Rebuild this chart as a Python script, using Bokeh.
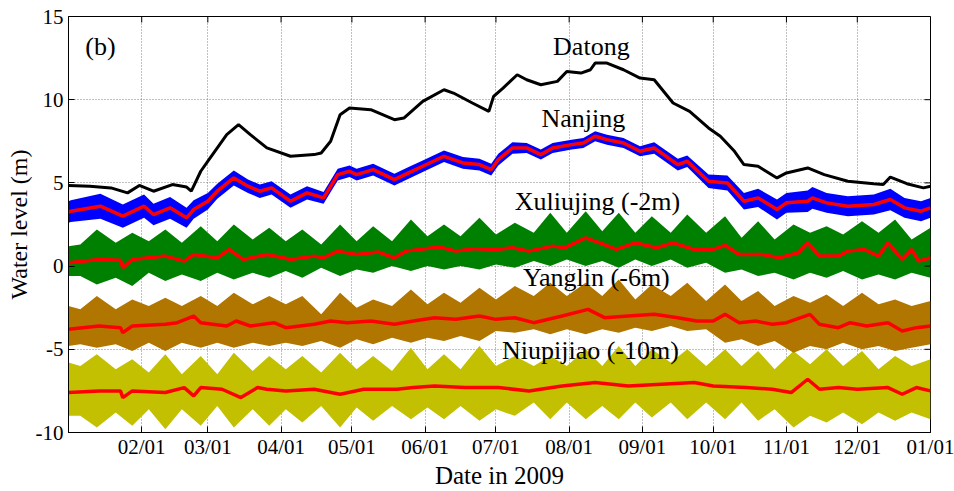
import numpy as np
from bokeh.plotting import figure
from bokeh.models import Range1d, FixedTicker, Label, Title
from bokeh.embed import file_html
from bokeh.resources import INLINE

# ---------------------------------------------------------------- axes
month_days = [31, 59, 90, 120, 151, 181, 212, 243, 273, 304, 334, 365]
month_labels = ["02/01", "03/01", "04/01", "05/01", "06/01", "07/01",
                "08/01", "09/01", "10/01", "11/01", "12/01", "01/01"]
level_ticks = [-10, -5, 0, 5, 10, 15]
level_labels = ["-10", "-5", "0", "5", "10", "15"]

# ---------------------------------------------------------------- Datong (daily level)
dt_days = [0, 9, 18, 25, 30, 36, 44, 50, 52, 56, 60, 67, 72, 77, 84, 94, 104, 107, 111, 115,
           119, 128, 138, 142, 150, 159, 163, 171, 178, 180, 184, 190, 194, 200, 207, 211, 217,
           221, 223, 228, 235, 242, 248, 256, 263, 271, 276, 282, 286, 292, 300, 304, 313, 320,
           330, 341, 345, 348, 355, 362, 365]
dt_level = [4.85, 4.8, 4.7, 4.4, 4.85, 4.5, 4.9, 4.75, 4.5, 5.7, 6.5, 7.9, 8.5, 7.9, 7.1, 6.6,
            6.7, 6.8, 7.5, 9.1, 9.5, 9.4, 8.8, 8.9, 9.9, 10.6, 10.4, 9.8, 9.3, 10.2, 10.7, 11.5,
            11.2, 10.9, 11.1, 11.7, 11.6, 11.8, 12.2, 12.2, 11.8, 11.3, 11.2, 9.8, 9.3, 8.3, 7.8,
            6.9, 6.1, 6.0, 5.3, 5.6, 5.9, 5.5, 5.1, 4.95, 4.9, 5.35, 4.95, 4.7, 4.8]

# ---------------------------------------------------------------- Nanjing (tidal mean and half range)
nj_days = [0, 1, 13.5, 23, 32, 36, 43, 50, 53, 59, 63, 70, 76, 81, 86, 94, 101, 108, 114, 119,
           122, 129, 138, 144, 150, 159, 167, 174, 179, 182, 188, 194, 200, 205, 213, 218, 223,
           228, 235, 242, 248, 258, 262, 271, 279, 286, 292, 300, 304, 313, 315, 321, 330, 341,
           348, 354, 361, 365]
nj_mean = [3.25, 3.3, 3.6, 3.0, 3.6, 3.1, 3.5, 2.9, 3.4, 3.9, 4.5, 5.3, 4.8, 4.5, 4.7, 3.9, 4.4,
           4.1, 5.5, 5.7, 5.5, 5.8, 5.2, 5.6, 6.0, 6.6, 6.2, 6.1, 5.8, 6.4, 7.1, 7.1, 6.7, 7.1,
           7.3, 7.4, 7.8, 7.6, 7.4, 6.9, 7.1, 6.1, 6.3, 5.1, 5.0, 3.9, 4.1, 3.4, 3.8, 3.9, 4.1,
           3.8, 3.6, 3.7, 4.0, 3.5, 3.3, 3.5]
nj_half = [0.65, 0.65, 0.75, 0.7, 0.7, 0.65, 0.65, 0.6, 0.55, 0.5,
           0.45, 0.45, 0.4, 0.4, 0.4, 0.4, 0.4, 0.35, 0.35, 0.35,
           0.35, 0.35, 0.35, 0.35, 0.35, 0.35, 0.35, 0.35, 0.35, 0.35,
           0.35, 0.3, 0.3, 0.3, 0.3, 0.3, 0.3, 0.3, 0.3, 0.3,
           0.35, 0.35, 0.35, 0.4, 0.45, 0.5, 0.55, 0.6, 0.6, 0.65,
           0.65, 0.6, 0.6, 0.6, 0.65, 0.6, 0.6, 0.6]

# ---------------------------------------------------------------- spring / neap envelope dates
tide_days = [0, 5, 12, 20, 27, 34, 41, 48, 56, 63, 70, 78, 85, 92, 99, 107, 115, 122, 129, 137,
             145, 152, 159, 166, 174, 181, 189, 197, 204, 211, 219, 226, 233, 240, 247, 255, 262,
             270, 278, 285, 292, 299, 307, 314, 321, 328, 336, 343, 350, 357, 365]

# Xuliujing (shifted -2 m)
xlj_high = [1.2, 1.3, 2.2, 1.4, 2.0, 1.5, 2.2, 1.4, 2.4, 1.5,
            2.5, 1.6, 2.3, 1.5, 2.2, 1.3, 2.5, 1.5, 2.4, 1.5,
            2.8, 1.8, 2.5, 1.8, 2.9, 1.9, 2.6, 2.0, 3.2, 2.0,
            3.3, 2.1, 3.2, 2.0, 3.0, 2.0, 3.1, 2.0, 3.0, 1.7,
            2.7, 1.6, 2.5, 2.0, 2.4, 1.9, 2.7, 2.0, 2.8, 1.6,
            2.3]
xlj_low = [-0.6, -0.6, -1.1, -0.7, -1.2, -0.4, -0.9, -0.5, -0.9, -0.4,
           -0.8, -0.4, -0.7, -0.3, -0.7, -0.1, -0.6, -0.2, -0.4, 0.0,
           -0.3, 0.0, -0.2, 0.0, -0.2, 0.1, -0.1, 0.3, 0.0, 0.4,
           0.0, 0.3, -0.1, 0.4, 0.0, 0.4, -0.1, 0.2, -0.4, -0.2,
           -0.6, -0.4, -0.8, -0.4, -0.7, -0.3, -0.8, -0.5, -0.8, -0.4,
           -0.7]
xlj_days = [0, 13, 22, 23, 27, 41, 49, 53, 63, 68, 74, 84, 91, 94, 104, 108, 114, 122, 131, 138,
            143, 157, 164, 172, 181, 188, 195, 205, 210, 219, 225, 232, 240, 249, 256, 265, 273,
            278, 284, 294, 301, 309, 313, 318, 326, 330, 337, 343, 347, 353, 357, 360, 365]
xlj_mean = [0.2, 0.4, 0.35, -0.1, 0.4, 0.6, 0.3, 0.7, 0.5, 1.0, 0.4, 0.7, 0.5, 0.4, 0.6, 0.5,
            0.9, 0.7, 0.85, 0.5, 0.9, 1.15, 0.9, 1.05, 1.0, 1.1, 0.9, 1.2, 1.1, 1.7, 1.4, 1.0,
            1.4, 1.1, 1.4, 1.0, 1.0, 1.25, 0.7, 0.7, 0.5, 0.8, 1.4, 0.6, 0.6, 0.9, 1.0, 0.6, 1.4,
            0.4, 1.0, 0.3, 0.5]

# Yanglin (shifted -6 m)
yl_high = [-2.4, -2.6, -1.8, -2.6, -2.0, -2.4, -1.9, -2.4, -1.8, -2.4,
           -1.6, -2.3, -1.8, -2.3, -1.8, -2.9, -1.6, -2.5, -2.0, -2.4,
           -1.4, -2.3, -1.6, -2.2, -1.3, -2.0, -1.2, -1.8, -1.0, -1.8,
           -1.0, -1.8, -0.8, -2.0, -1.1, -1.8, -1.0, -2.1, -1.1, -2.1,
           -1.5, -2.4, -1.8, -2.2, -1.7, -2.4, -1.6, -2.3, -2.0, -2.4,
           -2.1]
yl_low = [-4.8, -4.7, -4.9, -4.7, -5.1, -4.6, -5.1, -4.6, -4.9, -4.6,
          -4.9, -4.6, -4.8, -4.6, -4.8, -4.5, -4.9, -4.4, -4.7, -4.3,
          -4.6, -4.3, -4.5, -4.2, -4.5, -3.9, -4.0, -3.8, -4.1, -3.8,
          -4.1, -3.8, -4.0, -3.7, -3.9, -3.6, -3.9, -3.8, -4.6, -4.4,
          -4.8, -4.5, -5.2, -4.8, -5.0, -4.6, -5.0, -4.8, -5.1, -4.9,
          -4.7]
yl_days = [0, 13, 22, 23, 27, 41, 46, 53, 56, 67, 71, 77, 87, 92, 104, 111, 118, 128, 138, 146,
           155, 164, 174, 181, 189, 197, 209, 220, 227, 237, 248, 258, 266, 273, 278, 284, 291,
           298, 304, 314, 318, 326, 331, 338, 347, 353, 359, 365]
yl_mean = [-3.8, -3.6, -3.7, -4.0, -3.6, -3.5, -3.4, -3.0, -3.4, -3.6, -3.3, -3.6, -3.4, -3.7,
           -3.5, -3.3, -3.4, -3.3, -3.5, -3.3, -3.1, -3.2, -3.0, -3.2, -3.1, -3.4, -3.0, -2.6,
           -3.1, -3.0, -2.9, -3.1, -3.3, -3.3, -2.9, -3.4, -3.3, -3.5, -3.4, -2.9, -3.5, -3.7,
           -3.4, -3.6, -3.4, -3.9, -3.7, -3.6]

# Niupijiao (shifted -10 m)
npj_high = [-5.8, -6.0, -5.3, -6.2, -5.6, -6.4, -5.3, -6.5, -5.4, -6.5,
            -5.2, -6.3, -5.4, -6.2, -5.4, -6.4, -5.2, -6.2, -5.4, -6.3,
            -4.9, -6.2, -5.3, -6.2, -4.8, -6.0, -5.4, -6.0, -5.4, -6.0,
            -5.0, -6.0, -4.8, -6.0, -5.0, -5.8, -5.0, -6.0, -5.0, -6.0,
            -5.1, -6.2, -5.1, -5.9, -5.0, -6.0, -5.1, -6.2, -5.4, -6.0,
            -5.6]
npj_low = [-9.0, -9.0, -9.7, -8.8, -9.6, -8.6, -9.8, -8.6, -9.6, -8.4,
           -9.7, -8.6, -9.6, -8.6, -9.4, -8.4, -9.7, -8.5, -9.3, -8.4,
           -9.2, -8.5, -9.2, -8.4, -9.3, -8.6, -9.0, -8.2, -9.2, -8.2,
           -9.2, -8.4, -9.2, -8.2, -9.1, -8.2, -9.2, -8.2, -9.2, -8.2,
           -9.3, -8.6, -9.7, -9.0, -9.4, -8.8, -9.5, -8.8, -9.3, -8.8,
           -9.2]
npj_days = [0, 13, 22, 23, 27, 41, 49, 53, 56, 65, 73, 80, 84, 92, 104, 115, 125, 139, 146, 155,
            168, 182, 195, 209, 223, 237, 251, 265, 273, 287, 298, 306, 313, 318, 326, 334, 347,
            353, 359, 365]
npj_mean = [-7.6, -7.5, -7.5, -7.9, -7.5, -7.6, -7.3, -7.8, -7.3, -7.4, -7.9, -7.3, -7.4, -7.5,
            -7.4, -7.7, -7.4, -7.4, -7.3, -7.2, -7.3, -7.3, -7.5, -7.2, -7.0, -7.2, -7.1, -7.0,
            -7.2, -7.3, -7.4, -7.6, -6.8, -7.4, -7.3, -7.4, -7.3, -7.7, -7.3, -7.5]

# ---------------------------------------------------------------- figure
FONT = "Liberation Serif"
X0, X1, Y0, Y1 = 0, 365, -10, 15

p = figure(width=954, height=491, output_backend="svg", toolbar_location=None,
           x_range=Range1d(X0, X1), y_range=Range1d(Y0, Y1),
           min_border_left=68, min_border_right=24, min_border_top=16, min_border_bottom=59)
p.background_fill_color = "white"
p.border_fill_color = "white"
p.outline_line_color = "black"
p.outline_line_width = 1

# tidal ranges (filled) with the daily mean in red on top
BLUE, GREEN, BROWN, YELLOW, RED = "#0000ff", "#008000", "#b07600", "#c2c000", "#ff0000"

p.varea(x=tide_days, y1=npj_low, y2=npj_high, fill_color=YELLOW)
p.line(npj_days, npj_mean, line_color=RED, line_width=3.5)

p.varea(x=tide_days, y1=yl_low, y2=yl_high, fill_color=BROWN)
p.line(yl_days, yl_mean, line_color=RED, line_width=3.5)

p.varea(x=tide_days, y1=xlj_low, y2=xlj_high, fill_color=GREEN)
p.line(xlj_days, xlj_mean, line_color=RED, line_width=3.5)

nj_mean_a = np.array(nj_mean)
nj_half_a = np.array(nj_half)
p.varea(x=nj_days, y1=nj_mean_a - nj_half_a, y2=nj_mean_a + nj_half_a, fill_color=BLUE)
p.line(nj_days, nj_mean, line_color=RED, line_width=3.5)

p.line(dt_days, dt_level, line_color="black", line_width=3)

# ---------------------------------------------------------------- axes and grid
for ax in (p.xaxis[0], p.yaxis[0]):
    ax.axis_line_color = "black"
    ax.major_tick_line_color = "black"
    ax.major_tick_in = 6
    ax.major_tick_out = 0
    ax.minor_tick_line_color = None
    ax.major_label_text_font = FONT
    ax.major_label_text_color = "black"
    ax.major_label_text_font_size = "21px"
    ax.major_label_text_line_height = 1.0

p.xaxis.ticker = FixedTicker(ticks=month_days)
p.xaxis.major_label_overrides = {d: s for d, s in zip(month_days, month_labels)}
p.yaxis.ticker = FixedTicker(ticks=level_ticks)
p.yaxis.major_label_overrides = {v: s for v, s in zip(level_ticks, level_labels)}
p.xaxis.major_label_standoff = 2
p.yaxis.major_label_standoff = 5
p.xaxis.axis_label = "Date in 2009"
p.xaxis.axis_label_text_font = FONT
p.xaxis.axis_label_text_font_size = "25px"
p.xaxis.axis_label_text_font_style = "normal"
p.xaxis.axis_label_text_color = "black"
p.xaxis.axis_label_text_line_height = 1.0
p.xaxis.axis_label_standoff = 0

# inward tick marks along the top and right edges of the box
p.ray(x=month_days, y=[Y1] * len(month_days), length=6, length_units="screen",
      angle=-np.pi / 2, line_color="black", line_width=1)
p.ray(x=[X1] * len(level_ticks), y=level_ticks, length=6, length_units="screen",
      angle=np.pi, line_color="black", line_width=1)

p.add_layout(Title(text="Water level (m)", align="center", offset=62, standoff=2,
                   text_font=FONT, text_font_size="24px", text_font_style="normal",
                   text_color="black"), "left")

p.xgrid.ticker = FixedTicker(ticks=month_days)
p.ygrid.ticker = FixedTicker(ticks=level_ticks)
for g in (p.xgrid[0], p.ygrid[0]):
    g.grid_line_color = "#808080"
    g.grid_line_dash = "1 2"
    g.grid_line_width = 1

# ---------------------------------------------------------------- station names
def station_label(x, y, text):
    p.add_layout(Label(x=x, y=y, text=text, text_font=FONT, text_font_size="26px",
                       text_align="center", text_baseline="middle", text_color="black"))

station_label(13.5, 13.2, "(b)")
station_label(221.4, 13.2, "Datong")
station_label(218, 8.9, "Nanjing")
station_label(224, 3.9, "Xuliujing (-2m)")
station_label(223.5, -0.66, "Yanglin (-6m)")
station_label(221, -5.1, "Niupijiao (-10m)")

open("out.html", "w").write(file_html(p, INLINE))
